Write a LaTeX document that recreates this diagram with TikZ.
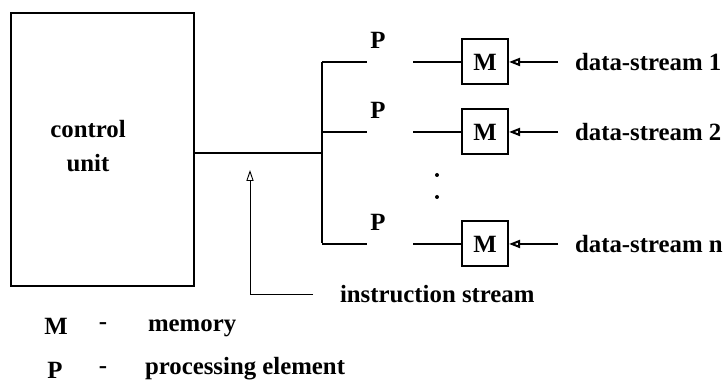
\documentclass[tikz,border=0pt]{standalone}
\usepackage{fontspec}
\setmainfont{Liberation Serif}
\usetikzlibrary{arrows.meta, positioning}
\tikzset{
      every node/.style = {font=\fontsize{12.4}{14}\selectfont\bfseries},
      unitbox/.style    = {rectangle, draw, line width=1pt,
                           minimum width=91.5pt, minimum height=136.5pt, inner sep=0pt},
      membox/.style     = {rectangle, draw, line width=1pt,
                           minimum width=23pt, minimum height=22.5pt, inner sep=0pt},
      dot/.style        = {circle, fill, inner sep=0pt, minimum size=2pt},
      wire/.style       = {line width=1pt},
      feed/.style       = {line width=1pt, -{Triangle[open, length=5.5pt, width=4pt]}},
      hint/.style       = {line width=0.45pt, -{Triangle[open, length=5.5pt, width=3.6pt]}}
    }
\begin{document}
\begin{tikzpicture}[x=0.5pt, y=-0.5pt]
  \useasboundingbox (0,0) rectangle (725,383);
  % Control unit
  \node[unitbox] (cu) at (102.5,149.5) {};
  \node[align=center] (cutext) at (88,146) {control\\[3pt]unit};
  % Bus
  \coordinate (junc) at (322,153);
  \coordinate (bustop) at (322,62);
  \coordinate (busbot) at (322,243);
  \draw[wire] (cu.east |- junc) -- (junc);
  \draw[wire] (bustop) -- (busbot);
  % Processing elements with memories
  \foreach \i/\y/\n in {1/62/1, 2/132/2, 3/244/n} {
    \coordinate (br\i) at (367,\y);
    \coordinate (pe\i) at (413,\y);
    \draw[wire] (bustop |- br\i) -- (br\i);
    \node (p\i) at (378,\y-22) {P};
    \node[membox] (m\i) at (485,\y) {M};
    \draw[wire] (pe\i) -- (m\i.west);
    \node[anchor=west] (ds\i) at (568,\y) {data-stream \n};
    \draw[feed] ([xshift=-5pt]ds\i.west) -- (m\i.east);
  }
  % Dots
  \node[dot] (d1) at (437,175) {};
  \node[dot] (d2) at (437,197) {};
  % Instruction stream
  \coordinate (istip) at (250,170);
  \node[anchor=west] (is) at (333,294) {instruction stream};
  \draw[hint] ([xshift=-10pt]is.west) -| (istip);
  % Legend
  \node (lm) at (56,326) {M};
  \node (lmd) at (103,326) {-};
  \node[anchor=west] (lmt) at (141,328) {memory};
  \node (lp) at (55,370) {P};
  \node (lpd) at (103,370) {-};
  \node[anchor=west] (lpt) at (138,369) {processing element};
\end{tikzpicture}
\end{document}
